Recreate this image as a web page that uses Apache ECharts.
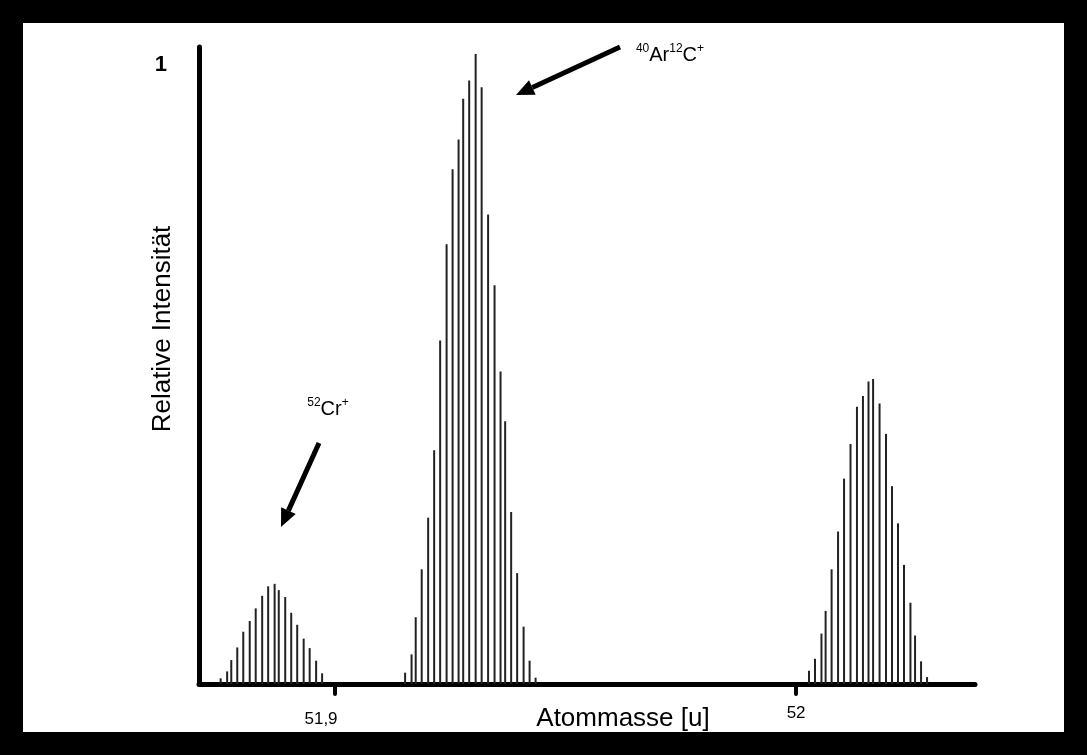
<!DOCTYPE html>
<html lang="de">
<head>
    <meta charset="UTF-8">
    <script src="https://cdn.jsdelivr.net/npm/echarts@6.0.0/dist/echarts.min.js"></script>
    <title>Massenspektrum 52Cr / 40Ar12C</title>
    <style>
        body { margin: 0; background: #fff; }
        #main { width: 1087px; height: 755px; }
    </style>
</head>
<body>
<div id="main"></div>
<script type="text/javascript">
    // peak around 51,887 u (52Cr+)
    const crMass = [51.8752, 51.8766, 51.8775, 51.8788, 51.8801, 51.8815, 51.8828, 51.8842, 51.8855,
        51.8869, 51.8878, 51.8892, 51.8905, 51.8918, 51.8932, 51.8945, 51.8959, 51.8972];
    const crIntensity = [0.009, 0.020, 0.038, 0.058, 0.083, 0.100, 0.120, 0.140, 0.155,
        0.159, 0.149, 0.138, 0.113, 0.094, 0.072, 0.057, 0.037, 0.017];

    // peak around 51,93 u (40Ar12C+)
    const arcMass = [51.9152, 51.9166, 51.9175, 51.9188, 51.9202, 51.9215, 51.9228, 51.9242, 51.9255,
        51.9268, 51.9278, 51.9291, 51.9305, 51.9318, 51.9332, 51.9346, 51.9359, 51.9369, 51.9382,
        51.9395, 51.9409, 51.9422, 51.9435];
    const arcIntensity = [0.018, 0.047, 0.106, 0.182, 0.264, 0.371, 0.545, 0.698, 0.817,
        0.864, 0.929, 0.958, 1.000, 0.947, 0.745, 0.633, 0.496, 0.417, 0.273,
        0.176, 0.091, 0.037, 0.010];

    // peak around 52,016 u
    const thirdMass = [52.0028, 52.0041, 52.0055, 52.0064, 52.0077, 52.0091, 52.0104, 52.0118, 52.0132,
        52.0145, 52.0157, 52.0167, 52.0181, 52.0195, 52.0208, 52.0221, 52.0234, 52.0248, 52.0258,
        52.0271, 52.0284];
    const thirdIntensity = [0.021, 0.040, 0.080, 0.116, 0.182, 0.242, 0.326, 0.381, 0.440,
        0.457, 0.480, 0.484, 0.445, 0.397, 0.314, 0.255, 0.189, 0.129, 0.077,
        0.036, 0.011];

    const xTickValues = [51.9, 52];
    const yTickValues = [1];

    // put all peaks in one series so the bars are not shifted side by side
    const points = [];
    [[crMass, crIntensity], [arcMass, arcIntensity], [thirdMass, thirdIntensity]].forEach(([m, v]) => {
        m.forEach((x, i) => points.push([x, v[i]]));
    });

    const font = 'Liberation Sans, Arial, sans-serif';

    // arrow = line + triangular head
    function arrow(x1, y1, x2, y2) {
        const len = Math.hypot(x2 - x1, y2 - y1);
        const dx = (x2 - x1) / len, dy = (y2 - y1) / len;
        const bx = x2 - dx * 18, by = y2 - dy * 18;
        const px = -dy * 8, py = dx * 8;
        return [
            { type: 'line', shape: { x1: x1, y1: y1, x2: bx, y2: by },
              style: { stroke: '#000', lineWidth: 5 } },
            { type: 'polygon', shape: { points: [[x2, y2], [bx + px, by + py], [bx - px, by - py]] },
              style: { fill: '#000' } }
        ];
    }

    const supRich = {
        s: { fontFamily: font, fontSize: 12, fill: '#000', verticalAlign: 'top', lineHeight: 24 },
        n: { fontFamily: font, fontSize: 20, fill: '#000', lineHeight: 24 }
    };

    let myChart = echarts.init(document.getElementById('main'));
    let options = {
        animation: false,
        backgroundColor: '#fff',
        grid: { left: 199, right: 112, top: 47, bottom: 71, containLabel: false, outerBoundsMode: 'none' },
        xAxis: {
            type: 'value',
            min: 51.8705,
            max: 52.0388,
            splitLine: { show: false },
            axisLine: { lineStyle: { color: '#000', width: 5, cap: 'round' } },
            axisTick: {
                customValues: xTickValues,
                length: 10,
                lineStyle: { color: '#000', width: 4, cap: 'round' }
            },
            axisLabel: {
                customValues: xTickValues,
                margin: 21,
                fontFamily: font,
                fontSize: 17,
                color: '#000',
                formatter: (v) => v === 52 ? '{b|52}' : '{a|' + String(v).replace('.', ',') + '}',
                rich: {
                    a: { fontFamily: font, fontSize: 17, color: '#000', padding: [6, 28, 0, 0] },
                    b: { fontFamily: font, fontSize: 17, color: '#000' }
                }
            }
        },
        yAxis: {
            type: 'value',
            min: 0,
            max: 1.011,
            splitLine: { show: false },
            axisTick: { show: false },
            axisLine: { show: true, lineStyle: { color: '#000', width: 5, cap: 'round' } },
            axisLabel: {
                customValues: yTickValues,
                margin: 32,
                fontFamily: font,
                fontSize: 22,
                fontWeight: 'bold',
                color: '#000',
                verticalAlign: 'top'
            }
        },
        graphic: [
            { type: 'rect', shape: { x: 11.5, y: 11.5, width: 1064, height: 732 },
              style: { fill: null, stroke: '#000', lineWidth: 23 } },
            { type: 'text', x: 163, y: 329, rotation: Math.PI / 2,
              style: { text: 'Relative Intensität', font: '26px ' + font, fill: '#000',
                       align: 'center', verticalAlign: 'middle' } },
            { type: 'text', x: 623, y: 719,
              style: { text: 'Atommasse [u]', font: '26px ' + font, fill: '#000',
                       align: 'center', verticalAlign: 'middle' } },
            { type: 'text', x: 328, y: 409,
              style: { text: '{s|52}{n|Cr}{s|+}', align: 'center', verticalAlign: 'middle', rich: supRich } },
            { type: 'text', x: 670, y: 55,
              style: { text: '{s|40}{n|Ar}{s|12}{n|C}{s|+}', align: 'center', verticalAlign: 'middle', rich: supRich } },
            ...arrow(620, 47, 516, 95),
            ...arrow(319, 443, 281, 527)
        ],
        series: [{
            type: 'bar',
            barWidth: 2,
            itemStyle: { color: '#222' },
            data: points
        }]
    };
    myChart.setOption(options);
</script>
</body>
</html>
